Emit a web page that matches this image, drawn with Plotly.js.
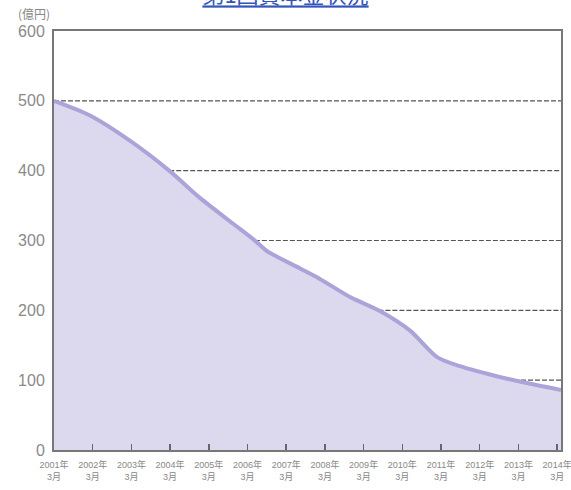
<!DOCTYPE html>
<html>
<head>
<meta charset="utf-8">
<script src="https://cdn.plot.ly/plotly-3.0.1.min.js"></script>
<style>html,body{margin:0;padding:0;background:#fff;}#chart{width:571px;height:490px;}</style>
</head>
<body>
<div id="chart"></div>
<script>
// Time position (fractional year, 2001.0 = 2001年3月) and balance (億円)
const timeYears = [2001.0, 2001.93, 2002.96, 2004.0, 2004.77, 2005.63, 2006.19, 2006.5, 2007.36, 2007.87, 2008.65, 2009.42, 2010.2, 2010.9, 2011.49, 2012.34, 2013.12, 2014.1];
const balance   = [500, 479, 443, 399, 361, 324, 300, 285, 260, 245, 219, 199, 171, 133, 120, 107, 97, 86];
const tickYears = [2001, 2002, 2003, 2004, 2005, 2006, 2007, 2008, 2009, 2010, 2011, 2012, 2013, 2014];
const tickLabels = tickYears.map(y => y + "年<br>3月");
const yTicks = [0, 100, 200, 300, 400, 500, 600];
const refLevels = [500, 400, 300, 200, 100];
const titleText = "第1回資本金状況";
const unitLabel = "(億円)";

function crossing(level) {
  for (let i = 0; i < balance.length - 1; i++) {
    if (balance[i] >= level && balance[i + 1] < level) {
      const t = (balance[i] - level) / (balance[i] - balance[i + 1]);
      return timeYears[i] + t * (timeYears[i + 1] - timeYears[i]);
    }
  }
  return timeYears[0];
}

const xMax = timeYears[timeYears.length - 1];
const shapes = refLevels.map(L => ({
  type: 'line', xref: 'x', yref: 'y', layer: 'below',
  x0: crossing(L), x1: xMax, y0: L, y1: L,
  line: { color: '#555', width: 1.2, dash: '5px,2px' }
}));

const trace = {
  x: timeYears, y: balance, type: 'scatter', mode: 'lines',
  fill: 'tozeroy', fillcolor: '#dcd9ef',
  line: { color: '#aaa4d9', width: 4, shape: 'spline', smoothing: 0.8 },
  hoverinfo: 'skip'
};

const layout = {
  width: 571, height: 490,
  margin: { l: 54, r: 10, t: 31, b: 40 },
  paper_bgcolor: '#fff', plot_bgcolor: '#fff',
  showlegend: false,
  title: {
    text: '<u>' + titleText + '</u>',
    font: { family: 'Noto Sans CJK JP', size: 22, color: '#3355bb' },
    x: 0.5, xanchor: 'center', xref: 'container',
    y: 0.993, yanchor: 'bottom', yref: 'container'
  },
  xaxis: {
    range: [2001, xMax], tickvals: tickYears, ticktext: tickLabels,
    showgrid: false, zeroline: false,
    showline: true, linecolor: '#777', linewidth: 2, mirror: true,
    ticks: 'inside', ticklen: 6, tickcolor: '#666', tickwidth: 1.5,
    ticklabelstandoff: 5, ticklabeloverflow: 'allow',
    tickfont: { family: 'Liberation Sans Narrow, Liberation Sans, Noto Sans CJK JP', size: 9, color: '#888' },
    fixedrange: true
  },
  yaxis: {
    range: [0, 600], tickvals: yTicks,
    showgrid: false, zeroline: false,
    showline: true, linecolor: '#777', linewidth: 2, mirror: true,
    ticks: '', ticklabelstandoff: 4,
    tickfont: { family: 'Liberation Sans, Arial', size: 16, color: '#8a8a8a' },
    fixedrange: true
  },
  shapes: shapes,
  annotations: [{
    text: unitLabel, xref: 'paper', yref: 'paper', x: 0, y: 1,
    xanchor: 'right', yanchor: 'bottom', xshift: -2, yshift: 7, showarrow: false,
    font: { family: 'Noto Sans CJK JP', size: 12, color: '#888' }
  }]
};

Plotly.newPlot('chart', [trace], layout, { displayModeBar: false, staticPlot: true });
</script>
</body>
</html>
